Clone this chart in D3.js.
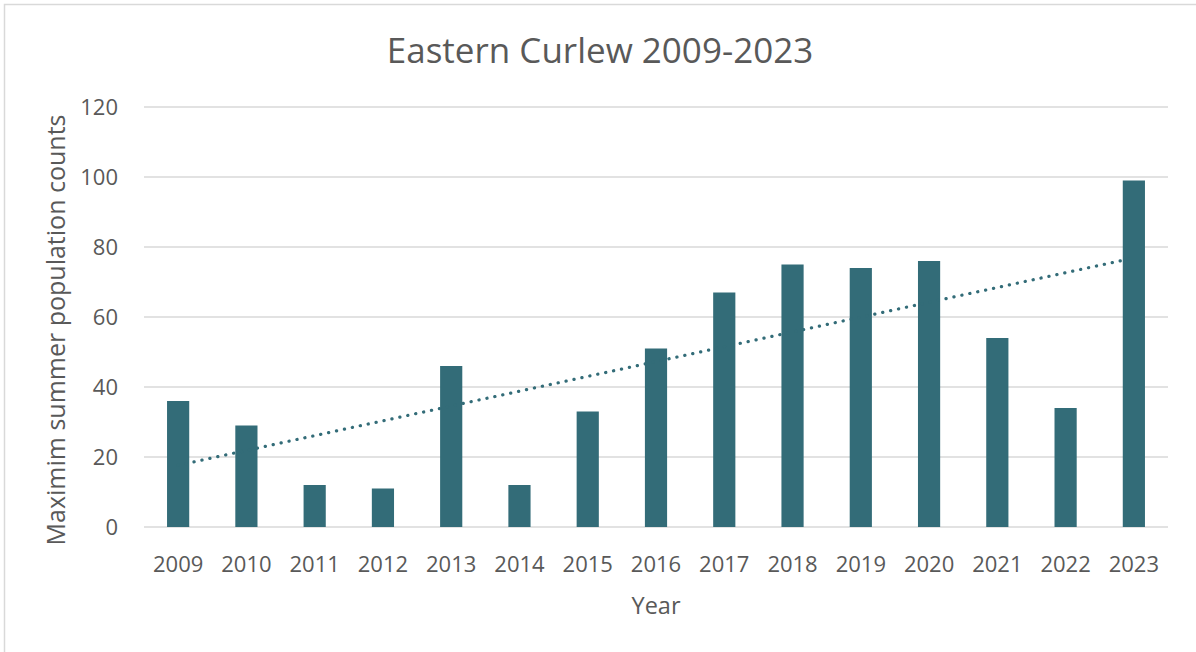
<!DOCTYPE html>
<html>
<head>
<meta charset="utf-8">
<script src="https://cdn.jsdelivr.net/npm/d3@7/dist/d3.min.js"></script>
<style>
  html, body { margin: 0; padding: 0; background: #fff; }
  svg { display: block; font-family: "Open Sans", "Noto Sans", sans-serif; }
</style>
</head>
<body>
<svg id="chart" width="1196" height="652"></svg>
<script>
const years = ["2009","2010","2011","2012","2013","2014","2015","2016","2017","2018","2019","2020","2021","2022","2023"];
const counts = [36, 29, 12, 11, 46, 12, 33, 51, 67, 75, 74, 76, 54, 34, 99];
const yTicks = [0, 20, 40, 60, 80, 100, 120];
const titleText = "Eastern Curlew 2009-2023";
const xTitle = "Year";
const yTitle = "Maximim summer population counts";

const W = 1196, H = 652;
const svg = d3.select("#chart");
const textColor = "#595959";
const gridColor = "#d9d9d9";
const barColor = "#336c78";
const fontFam = '"Open Sans", "Noto Sans", sans-serif';

// chart frame
svg.append("rect").attr("x", 4.5).attr("y", 4.5).attr("width", W + 10).attr("height", H + 10)
  .attr("fill", "#fff").attr("stroke", gridColor).attr("stroke-width", 1.5);

const plot = { left: 144, right: 1168, top: 107, bottom: 527 };

const x = d3.scaleBand().domain(years).range([plot.left, plot.right]).paddingInner(0.675).paddingOuter(0.3375);
const y = d3.scaleLinear().domain([0, 120]).range([plot.bottom, plot.top]);

// gridlines
svg.append("g").selectAll("line").data(yTicks).join("line")
  .attr("x1", plot.left).attr("x2", plot.right)
  .attr("y1", d => y(d)).attr("y2", d => y(d))
  .attr("stroke", gridColor).attr("stroke-width", 1.5);

// y axis labels
const yAxis = d3.axisLeft(y).tickValues(yTicks).tickSize(0).tickPadding(0);
const gy = svg.append("g").attr("transform", `translate(${plot.left - 26},0)`).call(yAxis)
  .attr("font-family", fontFam).attr("font-size", 22);
gy.select(".domain").remove();
gy.selectAll("text").attr("fill", textColor);

// bars
svg.append("g").selectAll("rect").data(counts).join("rect")
  .attr("x", (d, i) => x(years[i]))
  .attr("width", x.bandwidth())
  .attr("y", d => y(d))
  .attr("height", d => y(0) - y(d))
  .attr("fill", barColor);

// x axis labels
const xAxis = d3.axisBottom(x).tickSize(0).tickPadding(0);
const gx = svg.append("g").attr("transform", `translate(0,${plot.bottom + 29})`).call(xAxis)
  .attr("font-family", fontFam).attr("font-size", 22);
gx.select(".domain").remove();
gx.selectAll("text").attr("fill", textColor);

// linear trendline (least squares on category index)
const n = counts.length;
const xs = d3.range(1, n + 1);
const mx = d3.mean(xs), my = d3.mean(counts);
const slope = d3.sum(xs.map((v, i) => (v - mx) * (counts[i] - my))) / d3.sum(xs.map(v => (v - mx) ** 2));
const intercept = my - slope * mx;
const trend = [0, n - 1].map(i => ({ yr: years[i], v: intercept + slope * (i + 1) }));
svg.append("path")
  .datum(trend)
  .attr("d", d3.line().x(d => x(d.yr) + x.bandwidth() / 2).y(d => y(d.v)))
  .attr("fill", "none").attr("stroke", barColor).attr("stroke-width", 3.2)
  .attr("stroke-linecap", "round").attr("stroke-dasharray", "0.2 7.9");

// title
svg.append("text").attr("x", 600).attr("y", 63)
  .attr("text-anchor", "middle").attr("fill", textColor).style("font-size", "35px").text(titleText);

// axis titles
svg.append("text").attr("x", (plot.left + plot.right) / 2).attr("y", 614)
  .attr("text-anchor", "middle").attr("fill", textColor).style("font-size", "23.5px").text(xTitle);

svg.append("text").attr("transform", `translate(65,330) rotate(-90)`)
  .attr("text-anchor", "middle").attr("fill", textColor).style("font-size", "25px").text(yTitle);
</script>
</body>
</html>
